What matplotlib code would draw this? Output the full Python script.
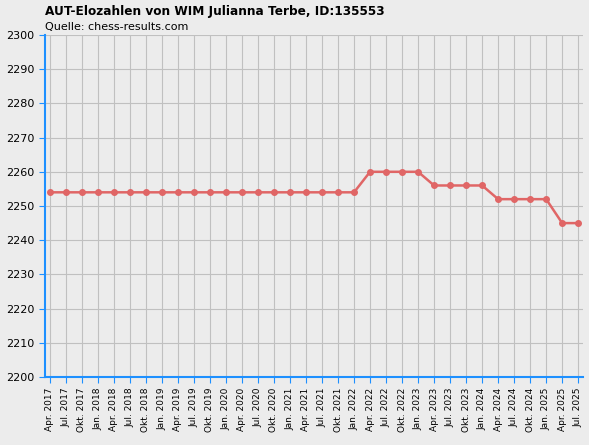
import matplotlib
matplotlib.use("Agg")
from matplotlib import pyplot as plt

months = ["Jan.", "Apr.", "Jul.", "Okt."]
labels = []
for y in range(2017, 2026):
    for m in months:
        labels.append(f"{m} {y}")
labels = labels[1:labels.index("Jul. 2025") + 1]

elo = [2254] * 20 + [2260] * 4 + [2256] * 4 + [2252] * 4 + [2245] * 2

fig = plt.figure(figsize=(5.89, 4.45), dpi=100, facecolor="#ececec")
ax = fig.add_axes([45 / 589, 1 - 377 / 445, 538 / 589, 342 / 445])
ax.set_facecolor("#ececec")
x = list(range(len(labels)))
ax.plot(x, elo, color="#e06666", lw=1.8, marker="o", ms=4)
ax.set_xlim(-0.3, len(labels) - 0.7)
ax.set_ylim(2200, 2300)
ax.set_yticks(range(2200, 2301, 10))
ax.set_xticks(x)
ax.set_xticklabels(labels, rotation=90, fontsize=6.5)
ax.tick_params(axis="y", labelsize=8, colors="#000000")
ax.tick_params(color="#1e90ff", length=4)
ax.grid(True, color="#c0c0c0", lw=0.8)
for s in ["top", "right"]:
    ax.spines[s].set_visible(False)
for s in ["left", "bottom"]:
    ax.spines[s].set_color("#1e90ff")
    ax.spines[s].set_linewidth(1.5)
fig.text(45 / 589, 1 - 11 / 445, "AUT-Elozahlen von WIM Julianna Terbe, ID:135553",
         fontsize=8.7, fontweight="bold", va="center")
fig.text(45 / 589, 1 - 27 / 445, "Quelle: chess-results.com", fontsize=8, va="center")
fig.savefig("out.png", dpi=100, facecolor=fig.get_facecolor())
